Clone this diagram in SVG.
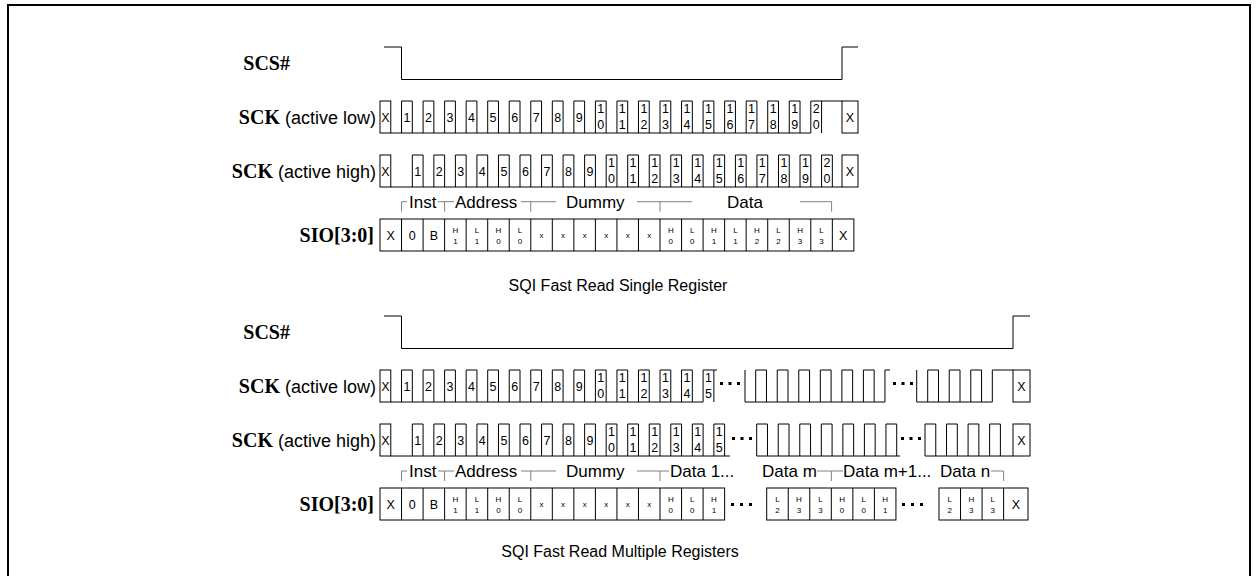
<svg xmlns="http://www.w3.org/2000/svg" xmlns:xlink="http://www.w3.org/1999/xlink" width="1258" height="576" viewBox="0 0 1258 576">
<style>
.w{fill:none;stroke:#000;stroke-width:1}
.b{fill:none;stroke:#808080;stroke-width:1}
.sig{font-family:"Liberation Serif",serif;font-weight:bold;font-size:20px;text-anchor:end}
.sub{font-family:"Liberation Sans",Arial,sans-serif;font-weight:normal;font-size:18px}
.n{font-family:"Liberation Sans",Arial,sans-serif;font-size:12.5px;text-anchor:middle}
.t{font-family:"Liberation Sans",Arial,sans-serif;font-size:8px;text-anchor:middle}
.br{font-family:"Liberation Sans",Arial,sans-serif;font-size:17px}
.ti{font-family:"Liberation Sans",Arial,sans-serif;font-size:16px;text-anchor:middle}
.d{fill:#000}
</style>
<defs>
<path id="pl" d="M0,32V0H10.77V32"/>
</defs>
<rect x="8" y="5" width="1242" height="580" fill="#fff" stroke="#000" stroke-width="2"/>

<!-- ===== Top: SQI Fast Read Single Register ===== -->
<g id="top-scs">
<text class="sig" x="290" y="70">SCS#</text>
<path class="w" d="M384,47H401.5V79.5H842V47H858"/>
</g>

<g id="top-sck-low">
<text class="sig" x="376" y="123.5">SCK<tspan class="sub"> (active low)</tspan></text>
<g class="w">
<rect x="380" y="101" width="10.77" height="32"/>
<path d="M390.77,133H810.8M821.57,101H842"/>
<use xlink:href="#pl" x="401.54" y="101"/><use xlink:href="#pl" x="423.08" y="101"/><use xlink:href="#pl" x="444.62" y="101"/><use xlink:href="#pl" x="466.16" y="101"/><use xlink:href="#pl" x="487.70" y="101"/><use xlink:href="#pl" x="509.24" y="101"/><use xlink:href="#pl" x="530.78" y="101"/><use xlink:href="#pl" x="552.32" y="101"/><use xlink:href="#pl" x="573.86" y="101"/><use xlink:href="#pl" x="595.40" y="101"/><use xlink:href="#pl" x="616.94" y="101"/><use xlink:href="#pl" x="638.48" y="101"/><use xlink:href="#pl" x="660.02" y="101"/><use xlink:href="#pl" x="681.56" y="101"/><use xlink:href="#pl" x="703.10" y="101"/><use xlink:href="#pl" x="724.64" y="101"/><use xlink:href="#pl" x="746.18" y="101"/><use xlink:href="#pl" x="767.72" y="101"/><use xlink:href="#pl" x="789.26" y="101"/><use xlink:href="#pl" x="810.80" y="101"/>
<rect x="842" y="101" width="16" height="32"/>
</g>
<g class="n">
<text x="385.4" y="121.5">X</text><text x="850" y="121.5">X</text>
<text x="406.93" y="121.5">1</text><text x="428.47" y="121.5">2</text><text x="450.01" y="121.5">3</text><text x="471.55" y="121.5">4</text><text x="493.09" y="121.5">5</text><text x="514.63" y="121.5">6</text><text x="536.17" y="121.5">7</text><text x="557.71" y="121.5">8</text><text x="579.25" y="121.5">9</text>
<text x="600.79" y="112.5">1<tspan x="600.79" y="129">0</tspan></text>
<text x="622.33" y="112.5">1<tspan x="622.33" y="129">1</tspan></text>
<text x="643.87" y="112.5">1<tspan x="643.87" y="129">2</tspan></text>
<text x="665.41" y="112.5">1<tspan x="665.41" y="129">3</tspan></text>
<text x="686.95" y="112.5">1<tspan x="686.95" y="129">4</tspan></text>
<text x="708.49" y="112.5">1<tspan x="708.49" y="129">5</tspan></text>
<text x="730.03" y="112.5">1<tspan x="730.03" y="129">6</tspan></text>
<text x="751.57" y="112.5">1<tspan x="751.57" y="129">7</tspan></text>
<text x="773.11" y="112.5">1<tspan x="773.11" y="129">8</tspan></text>
<text x="794.65" y="112.5">1<tspan x="794.65" y="129">9</tspan></text>
<text x="816.19" y="112.5">2<tspan x="816.19" y="129">0</tspan></text>
</g>
</g>

<g id="top-sck-high">
<text class="sig" x="376" y="177.5">SCK<tspan class="sub"> (active high)</tspan></text>
<g class="w">
<rect x="380" y="155" width="10.77" height="32"/>
<path d="M390.77,187H842"/>
<use xlink:href="#pl" x="412.31" y="155"/><use xlink:href="#pl" x="433.85" y="155"/><use xlink:href="#pl" x="455.39" y="155"/><use xlink:href="#pl" x="476.93" y="155"/><use xlink:href="#pl" x="498.47" y="155"/><use xlink:href="#pl" x="520.01" y="155"/><use xlink:href="#pl" x="541.55" y="155"/><use xlink:href="#pl" x="563.09" y="155"/><use xlink:href="#pl" x="584.63" y="155"/><use xlink:href="#pl" x="606.17" y="155"/><use xlink:href="#pl" x="627.71" y="155"/><use xlink:href="#pl" x="649.25" y="155"/><use xlink:href="#pl" x="670.79" y="155"/><use xlink:href="#pl" x="692.33" y="155"/><use xlink:href="#pl" x="713.87" y="155"/><use xlink:href="#pl" x="735.41" y="155"/><use xlink:href="#pl" x="756.95" y="155"/><use xlink:href="#pl" x="778.49" y="155"/><use xlink:href="#pl" x="800.03" y="155"/><use xlink:href="#pl" x="821.57" y="155"/>
<rect x="842" y="155" width="16" height="32"/>
</g>
<g class="n">
<text x="385.4" y="175.5">X</text><text x="850" y="175.5">X</text>
<text x="417.70" y="175.5">1</text><text x="439.24" y="175.5">2</text><text x="460.78" y="175.5">3</text><text x="482.32" y="175.5">4</text><text x="503.86" y="175.5">5</text><text x="525.40" y="175.5">6</text><text x="546.94" y="175.5">7</text><text x="568.48" y="175.5">8</text><text x="590.02" y="175.5">9</text>
<text x="611.56" y="166.5">1<tspan x="611.56" y="183">0</tspan></text>
<text x="633.10" y="166.5">1<tspan x="633.10" y="183">1</tspan></text>
<text x="654.64" y="166.5">1<tspan x="654.64" y="183">2</tspan></text>
<text x="676.18" y="166.5">1<tspan x="676.18" y="183">3</tspan></text>
<text x="697.72" y="166.5">1<tspan x="697.72" y="183">4</tspan></text>
<text x="719.26" y="166.5">1<tspan x="719.26" y="183">5</tspan></text>
<text x="740.80" y="166.5">1<tspan x="740.80" y="183">6</tspan></text>
<text x="762.34" y="166.5">1<tspan x="762.34" y="183">7</tspan></text>
<text x="783.88" y="166.5">1<tspan x="783.88" y="183">8</tspan></text>
<text x="805.42" y="166.5">1<tspan x="805.42" y="183">9</tspan></text>
<text x="826.96" y="166.5">2<tspan x="826.96" y="183">0</tspan></text>
</g>
</g>

<g id="top-phases">
<path class="b" d="M401.54,211.7V201.7H407M438,201.7H454M444.62,211.7V201.7M521,201.7H556M530.78,211.7V201.7M637,201.7H692M660.02,211.7V201.7M800,201.7H831.6V211.7"/>
<text class="br" x="409" y="207.8">Inst</text>
<text class="br" x="455" y="207.8">Address</text>
<text class="br" x="566" y="207.8">Dummy</text>
<text class="br" x="727" y="207.8">Data</text>
</g>

<g id="top-sio">
<text class="sig" x="374" y="242">SIO[3:0]</text>
<g class="w">
<rect x="380" y="219" width="473.88" height="32"/>
<path d="M401.54,219V251M423.08,219V251M444.62,219V251M466.16,219V251M487.70,219V251M509.24,219V251M530.78,219V251M552.32,219V251M573.86,219V251M595.40,219V251M616.94,219V251M638.48,219V251M660.02,219V251M681.56,219V251M703.10,219V251M724.64,219V251M746.18,219V251M767.72,219V251M789.26,219V251M810.80,219V251M832.34,219V251"/>
</g>
<g class="n">
<text x="390.77" y="239.5">X</text><text x="412.31" y="239.5">0</text><text x="433.85" y="239.5">B</text><text x="843.11" y="239.5">X</text>
</g>
<g class="t">
<text x="455.39" y="233">H<tspan x="455.39" y="244">1</tspan></text>
<text x="476.93" y="233">L<tspan x="476.93" y="244">1</tspan></text>
<text x="498.47" y="233">H<tspan x="498.47" y="244">0</tspan></text>
<text x="520.01" y="233">L<tspan x="520.01" y="244">0</tspan></text>
<text x="541.55" y="238">x</text><text x="563.09" y="238">x</text><text x="584.63" y="238">x</text><text x="606.17" y="238">x</text><text x="627.71" y="238">x</text><text x="649.25" y="238">x</text>
<text x="670.79" y="233">H<tspan x="670.79" y="244">0</tspan></text>
<text x="692.33" y="233">L<tspan x="692.33" y="244">0</tspan></text>
<text x="713.87" y="233">H<tspan x="713.87" y="244">1</tspan></text>
<text x="735.41" y="233">L<tspan x="735.41" y="244">1</tspan></text>
<text x="756.95" y="233">H<tspan x="756.95" y="244">2</tspan></text>
<text x="778.49" y="233">L<tspan x="778.49" y="244">2</tspan></text>
<text x="800.03" y="233">H<tspan x="800.03" y="244">3</tspan></text>
<text x="821.57" y="233">L<tspan x="821.57" y="244">3</tspan></text>
</g>
</g>

<text id="title-single" class="ti" x="618" y="291">SQI Fast Read Single Register</text>

<!-- ===== Bottom: SQI Fast Read Multiple Registers ===== -->
<g id="bot-scs">
<text class="sig" x="290" y="339">SCS#</text>
<path class="w" d="M384,316H401.5V348.5H1013V316H1030"/>
</g>

<g id="bot-sck-low">
<text class="sig" x="376" y="392.5">SCK<tspan class="sub"> (active low)</tspan></text>
<g class="w">
<rect x="380" y="370" width="10.77" height="32"/>
<path d="M390.77,402H703.1M713.87,370H717M745,370V402H884.94M884.94,402V370H890M916.7,370V402H992.32V370H1013"/>
<use xlink:href="#pl" x="401.54" y="370"/><use xlink:href="#pl" x="423.08" y="370"/><use xlink:href="#pl" x="444.62" y="370"/><use xlink:href="#pl" x="466.16" y="370"/><use xlink:href="#pl" x="487.70" y="370"/><use xlink:href="#pl" x="509.24" y="370"/><use xlink:href="#pl" x="530.78" y="370"/><use xlink:href="#pl" x="552.32" y="370"/><use xlink:href="#pl" x="573.86" y="370"/><use xlink:href="#pl" x="595.40" y="370"/><use xlink:href="#pl" x="616.94" y="370"/><use xlink:href="#pl" x="638.48" y="370"/><use xlink:href="#pl" x="660.02" y="370"/><use xlink:href="#pl" x="681.56" y="370"/><use xlink:href="#pl" x="703.10" y="370"/>
<use xlink:href="#pl" x="755.7" y="370"/><use xlink:href="#pl" x="777.24" y="370"/><use xlink:href="#pl" x="798.78" y="370"/><use xlink:href="#pl" x="820.32" y="370"/><use xlink:href="#pl" x="841.86" y="370"/><use xlink:href="#pl" x="863.4" y="370"/>
<use xlink:href="#pl" x="927.7" y="370"/><use xlink:href="#pl" x="949.24" y="370"/><use xlink:href="#pl" x="970.78" y="370"/>
<rect x="1013" y="370" width="17" height="32"/>
</g>
<g class="d">
<rect x="720" y="382" width="3" height="3"/><rect x="728.5" y="382" width="3" height="3"/><rect x="737" y="382" width="3" height="3"/>
<rect x="893" y="382" width="3" height="3"/><rect x="901.5" y="382" width="3" height="3"/><rect x="910" y="382" width="3" height="3"/>
</g>
<g class="n">
<text x="385.4" y="390.5">X</text><text x="1021.5" y="390.5">X</text>
<text x="406.93" y="390.5">1</text><text x="428.47" y="390.5">2</text><text x="450.01" y="390.5">3</text><text x="471.55" y="390.5">4</text><text x="493.09" y="390.5">5</text><text x="514.63" y="390.5">6</text><text x="536.17" y="390.5">7</text><text x="557.71" y="390.5">8</text><text x="579.25" y="390.5">9</text>
<text x="600.79" y="381.5">1<tspan x="600.79" y="398">0</tspan></text>
<text x="622.33" y="381.5">1<tspan x="622.33" y="398">1</tspan></text>
<text x="643.87" y="381.5">1<tspan x="643.87" y="398">2</tspan></text>
<text x="665.41" y="381.5">1<tspan x="665.41" y="398">3</tspan></text>
<text x="686.95" y="381.5">1<tspan x="686.95" y="398">4</tspan></text>
<text x="708.49" y="381.5">1<tspan x="708.49" y="398">5</tspan></text>
</g>
</g>

<g id="bot-sck-high">
<text class="sig" x="376" y="446.5">SCK<tspan class="sub"> (active high)</tspan></text>
<g class="w">
<rect x="380" y="424" width="10.77" height="32"/>
<path d="M390.77,456H730M756.7,456H900M925,456H1013"/>
<use xlink:href="#pl" x="412.31" y="424"/><use xlink:href="#pl" x="433.85" y="424"/><use xlink:href="#pl" x="455.39" y="424"/><use xlink:href="#pl" x="476.93" y="424"/><use xlink:href="#pl" x="498.47" y="424"/><use xlink:href="#pl" x="520.01" y="424"/><use xlink:href="#pl" x="541.55" y="424"/><use xlink:href="#pl" x="563.09" y="424"/><use xlink:href="#pl" x="584.63" y="424"/><use xlink:href="#pl" x="606.17" y="424"/><use xlink:href="#pl" x="627.71" y="424"/><use xlink:href="#pl" x="649.25" y="424"/><use xlink:href="#pl" x="670.79" y="424"/><use xlink:href="#pl" x="692.33" y="424"/><use xlink:href="#pl" x="713.87" y="424"/>
<use xlink:href="#pl" x="756.7" y="424"/><use xlink:href="#pl" x="778.24" y="424"/><use xlink:href="#pl" x="799.78" y="424"/><use xlink:href="#pl" x="821.32" y="424"/><use xlink:href="#pl" x="842.86" y="424"/><use xlink:href="#pl" x="864.4" y="424"/><use xlink:href="#pl" x="885.94" y="424"/>
<use xlink:href="#pl" x="925" y="424"/><use xlink:href="#pl" x="946.54" y="424"/><use xlink:href="#pl" x="968.08" y="424"/><use xlink:href="#pl" x="989.62" y="424"/>
<rect x="1013" y="424" width="17" height="32"/>
</g>
<g class="d">
<rect x="732" y="437" width="3" height="3"/><rect x="740.5" y="437" width="3" height="3"/><rect x="749" y="437" width="3" height="3"/>
<rect x="901" y="437" width="3" height="3"/><rect x="909.5" y="437" width="3" height="3"/><rect x="918" y="437" width="3" height="3"/>
</g>
<g class="n">
<text x="385.4" y="444.5">X</text><text x="1021.5" y="444.5">X</text>
<text x="417.70" y="444.5">1</text><text x="439.24" y="444.5">2</text><text x="460.78" y="444.5">3</text><text x="482.32" y="444.5">4</text><text x="503.86" y="444.5">5</text><text x="525.40" y="444.5">6</text><text x="546.94" y="444.5">7</text><text x="568.48" y="444.5">8</text><text x="590.02" y="444.5">9</text>
<text x="611.56" y="435.5">1<tspan x="611.56" y="452">0</tspan></text>
<text x="633.10" y="435.5">1<tspan x="633.10" y="452">1</tspan></text>
<text x="654.64" y="435.5">1<tspan x="654.64" y="452">2</tspan></text>
<text x="676.18" y="435.5">1<tspan x="676.18" y="452">3</tspan></text>
<text x="697.72" y="435.5">1<tspan x="697.72" y="452">4</tspan></text>
<text x="719.26" y="435.5">1<tspan x="719.26" y="452">5</tspan></text>
</g>
</g>

<g id="bot-phases">
<path class="b" d="M401.54,481V471H407M438,471H454M444.62,481V471M521,471H556M530.78,481V471M637,471H669M660.02,481V471M817,471H843M831.32,481V471M991,471H1003.6V481"/>
<text class="br" x="409" y="477">Inst</text>
<text class="br" x="455" y="477">Address</text>
<text class="br" x="566" y="477">Dummy</text>
<text class="br" x="670" y="477">Data 1...</text>
<text class="br" x="762" y="477">Data m</text>
<text class="br" x="843" y="477">Data m+1...</text>
<text class="br" x="940" y="477">Data n</text>
</g>

<g id="bot-sio">
<text class="sig" x="374" y="511">SIO[3:0]</text>
<g class="w">
<rect x="380" y="488" width="344.64" height="32"/>
<path d="M401.54,488V520M423.08,488V520M444.62,488V520M466.16,488V520M487.70,488V520M509.24,488V520M530.78,488V520M552.32,488V520M573.86,488V520M595.40,488V520M616.94,488V520M638.48,488V520M660.02,488V520M681.56,488V520M703.10,488V520"/>
<rect x="766.7" y="488" width="129.24" height="32"/>
<path d="M788.24,488V520M809.78,488V520M831.32,488V520M852.86,488V520M874.4,488V520"/>
<rect x="939" y="488" width="89" height="32"/>
<path d="M960.54,488V520M982.08,488V520M1003.62,488V520"/>
</g>
<g class="d">
<rect x="731" y="503" width="3" height="3"/><rect x="740" y="503" width="3" height="3"/><rect x="749" y="503" width="3" height="3"/>
<rect x="902" y="503" width="3" height="3"/><rect x="911" y="503" width="3" height="3"/><rect x="920" y="503" width="3" height="3"/>
</g>
<g class="n">
<text x="390.77" y="508.5">X</text><text x="412.31" y="508.5">0</text><text x="433.85" y="508.5">B</text><text x="1015.8" y="508.5">X</text>
</g>
<g class="t">
<text x="455.39" y="502">H<tspan x="455.39" y="513">1</tspan></text>
<text x="476.93" y="502">L<tspan x="476.93" y="513">1</tspan></text>
<text x="498.47" y="502">H<tspan x="498.47" y="513">0</tspan></text>
<text x="520.01" y="502">L<tspan x="520.01" y="513">0</tspan></text>
<text x="541.55" y="507">x</text><text x="563.09" y="507">x</text><text x="584.63" y="507">x</text><text x="606.17" y="507">x</text><text x="627.71" y="507">x</text><text x="649.25" y="507">x</text>
<text x="670.79" y="502">H<tspan x="670.79" y="513">0</tspan></text>
<text x="692.33" y="502">L<tspan x="692.33" y="513">0</tspan></text>
<text x="713.87" y="502">H<tspan x="713.87" y="513">1</tspan></text>
<text x="777.47" y="502">L<tspan x="777.47" y="513">2</tspan></text>
<text x="799.01" y="502">H<tspan x="799.01" y="513">3</tspan></text>
<text x="820.55" y="502">L<tspan x="820.55" y="513">3</tspan></text>
<text x="842.09" y="502">H<tspan x="842.09" y="513">0</tspan></text>
<text x="863.63" y="502">L<tspan x="863.63" y="513">0</tspan></text>
<text x="885.17" y="502">H<tspan x="885.17" y="513">1</tspan></text>
<text x="949.77" y="502">L<tspan x="949.77" y="513">2</tspan></text>
<text x="971.31" y="502">H<tspan x="971.31" y="513">3</tspan></text>
<text x="992.85" y="502">L<tspan x="992.85" y="513">3</tspan></text>
</g>
</g>

<text id="title-multiple" class="ti" x="620" y="557">SQI Fast Read Multiple Registers</text>
</svg>
